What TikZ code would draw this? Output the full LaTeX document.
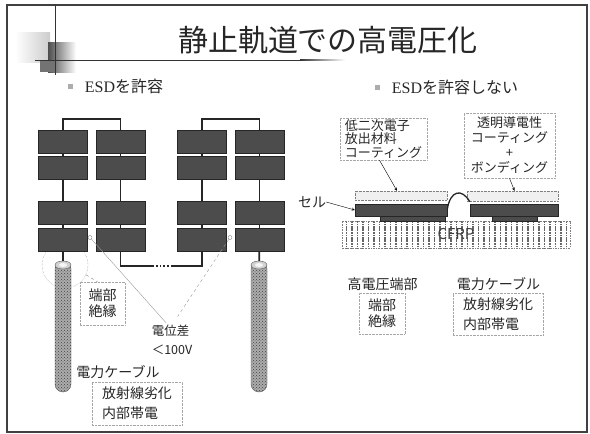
\documentclass[tikz,border=0pt]{standalone}
\usepackage{fontspec}
\setmainfont{Noto Sans CJK JP}
\newfontfamily\serifesd{Liberation Serif}
\usetikzlibrary{shapes.geometric, arrows.meta, positioning, patterns, patterns.meta}
\tikzstyle{panel} = [rectangle, minimum width=49pt, minimum height=23pt, inner sep=0pt, draw=black!85, fill=black!70]
\tikzstyle{wire} = [line width=1.8pt, black!85]
\tikzstyle{cable} = [rectangle, rounded corners=8pt, minimum width=16pt, minimum height=131pt, draw=black!65, preaction={fill=gray!65}, pattern=crosshatch dots, pattern color=black!75]
\tikzstyle{note} = [rectangle, draw=gray!70, densely dotted, inner sep=0pt, align=left, text=black!85]
\tikzstyle{txt} = [inner sep=0pt, align=left, text=black!85, font=\fontsize{14}{16}\selectfont]
\tikzstyle{bullet} = [rectangle, fill=gray!65, minimum size=5pt, inner sep=0pt]
\tikzstyle{junction} = [circle, draw=gray, fill=white, minimum size=4pt, inner sep=0pt]
\tikzstyle{glass} = [rectangle, draw=gray, densely dotted, fill=gray!12, inner sep=0pt]
\tikzstyle{cell} = [rectangle, draw=black!85, fill=black!70, inner sep=0pt]
\tikzstyle{arrow} = [thin, ->, >=stealth]
\begin{document}
\begin{tikzpicture}[x=1pt, y=-1pt]
\useasboundingbox (0,0) rectangle (590,434);
% slide frame and title bar
\draw[line width=1.2pt, black!75] (7,5) rectangle (587,432);
\shade[left color=white, right color=gray!40] (15,32) rectangle (50,62);
\shade[left color=black!70, right color=white] (48,42) rectangle (76,72);
\fill[black!55] (40,60) rectangle (56,72);
\draw[black!80] (55,5) -- (55,75);
\draw[black!80] (35,60) -- (300,60);
\shade[left color=black!80, right color=white] (300,59.5) rectangle (345,60.5);
\node (title) [text=black!85] at (328,40) {\fontsize{30}{30}\selectfont 静止軌道での高電圧化};

\node (bulL) [bullet] at (70,86) {};
\node (headL) [txt, font=\fontsize{16}{16}\selectfont, right=12pt of bulL] {{\serifesd ESD}を許容};
\node (bulR) [bullet] at (377,87) {};
\node (headR) [txt, font=\fontsize{16}{16}\selectfont, right=12pt of bulR] {{\serifesd ESD}を許容しない};

% end insulation callout (behind the panels)
\node (endL) [circle, draw=gray, densely dotted, minimum size=46pt] at (65,265) {};

% solar array, two strings
\node (a1) [panel] at (63,141.5) {};
\node (a2) [panel, below=3pt of a1] {};
\node (a3) [panel, below=21pt of a2] {};
\node (a4) [panel, below=4pt of a3] {};
\node (b1) [panel, right=8pt of a1] {};
\node (b2) [panel, right=8pt of a2] {};
\node (b3) [panel, right=8pt of a3] {};
\node (b4) [panel, right=8pt of a4] {};
\node (c1) [panel] at (202,141.5) {};
\node (c2) [panel, below=3pt of c1] {};
\node (c3) [panel, below=21pt of c2] {};
\node (c4) [panel, below=4pt of c3] {};
\node (d1) [panel, right=8pt of c1] {};
\node (d2) [panel, right=8pt of c2] {};
\node (d3) [panel, right=8pt of c3] {};
\node (d4) [panel, right=8pt of c4] {};

\node (cabL) [cable] at (63,326.5) {};
\node (cabR) [cable] at (259,326.5) {};
\draw[fill=gray!35, draw=black!65] (63,265) ellipse (8 and 4);
\fill[gray!8] (63,265) ellipse (4 and 2);
\draw[fill=gray!35, draw=black!65] (259,265) ellipse (8 and 4);
\fill[gray!8] (259,265) ellipse (4 and 2);

\coordinate (dotA) at (152,266);
\coordinate (dotB) at (173,266);

\draw[wire] (a1.north) -- ++(0,-11) -| (b1.north);
\draw[wire] (a1) -- (a2);
\draw[wire] (a2) -- (a3);
\draw[wire] (a3) -- (a4);
\draw[wire] (b1) -- (b2);
\draw[wire] (b2) -- (b3);
\draw[wire] (b3) -- (b4);
\draw[wire] (a4) -- (cabL);
\draw[wire] (b4) |- (dotA);
\draw[wire, dotted] (dotA) -- (dotB);
\draw[wire] (dotB) -| (c4);
\draw[wire] (c1.north) -- ++(0,-11) -| (d1.north);
\draw[wire] (c1) -- (c2);
\draw[wire] (c2) -- (c3);
\draw[wire] (c3) -- (c4);
\draw[wire] (d1) -- (d2);
\draw[wire] (d2) -- (d3);
\draw[wire] (d3) -- (d4);
\draw[wire] (d4) -- (cabR);

% potential difference between the strings
\node (jL) [junction] at (90,237.5) {};
\node (jR) [junction] at (230,237.5) {};
\node (dV) [txt, font=\fontsize{12.5}{19}\selectfont] at (172,340) {電位差\\＜100V};
\draw[gray!80, shorten >=3pt] (jL) -- ([xshift=-4pt]dV.north);
\draw[gray!80, dashed, shorten >=10pt] (jR) -- (dV.north);

\node (insL) [note, minimum width=45pt, minimum height=43pt, font=\fontsize{14}{16}\selectfont] at (102.5,303.5) {端部\\絶縁};
\draw[gray, dashed] (endL.-25) -- ([xshift=-5pt]insL.north);
\node (cblL) [txt] at (118,372) {電力ケーブル};
\node (degL) [note, minimum width=90pt, minimum height=43pt, font=\fontsize{14}{20}\selectfont] at (137,403.5) {放射線劣化\\内部帯電};

% cross section on the CFRP panel
\node (coatL) [note, minimum width=87pt, minimum height=42pt, font=\fontsize{13}{13.5}\selectfont] at (383.5,139) {低二次電子\\放出材料\\コーティング};
\node (coatR) [note, minimum width=91pt, minimum height=65pt, align=center, font=\fontsize{13}{15}\selectfont] at (509.5,145.5) {透明導電性\\コーティング\\+\\ボンディング};

\node (cfrp) [rectangle, minimum width=228pt, minimum height=27pt, draw=gray, densely dotted, preaction={fill=white}, pattern={Lines[angle=90,distance=5.5pt,line width=1.6pt]}, pattern color=black!60, text=black!75, font=\fontsize{15}{15}\selectfont] at (456,234.5) {CFRP};
\node (glassL) [glass, minimum width=92pt, minimum height=9pt] at (401,195.5) {};
\node (cellL) [cell, minimum width=92pt, minimum height=12pt] at (401,210) {};
\node (padL) [cell, minimum width=65pt, minimum height=5pt] at (412.5,218.5) {};
\node (glassR) [glass, minimum width=91pt, minimum height=10pt] at (512.5,196) {};
\node (cellR) [cell, minimum width=88pt, minimum height=12pt] at (514,210) {};
\node (padR) [cell, minimum width=45pt, minimum height=5pt] at (514.5,218.5) {};
\draw[line width=1.3pt, black!85] (cellL.east) .. controls (450,190) and (462,188) .. ([yshift=2pt]cellR.north west);

\node (cellTxt) [txt] at (312,202) {セル};
\draw[arrow] (cellTxt.east) -- (cellL.west);
\draw[arrow] ([xshift=-4pt]coatL.south) -- ([xshift=-4pt]glassL.north);
\draw[arrow] (coatR.south) -- ([xshift=2pt]glassR.north);

\node (hvTxt) [txt] at (382.5,284) {高電圧端部};
\node (insR) [note, minimum width=46pt, minimum height=41pt, font=\fontsize{14}{16}\selectfont] at (382,313.5) {端部\\絶縁};
\node (cblR) [txt] at (498.5,284) {電力ケーブル};
\node (degR) [note, minimum width=90pt, minimum height=42pt, font=\fontsize{14}{20}\selectfont] at (498,314) {放射線劣化\\内部帯電};
\end{tikzpicture}
\end{document}
